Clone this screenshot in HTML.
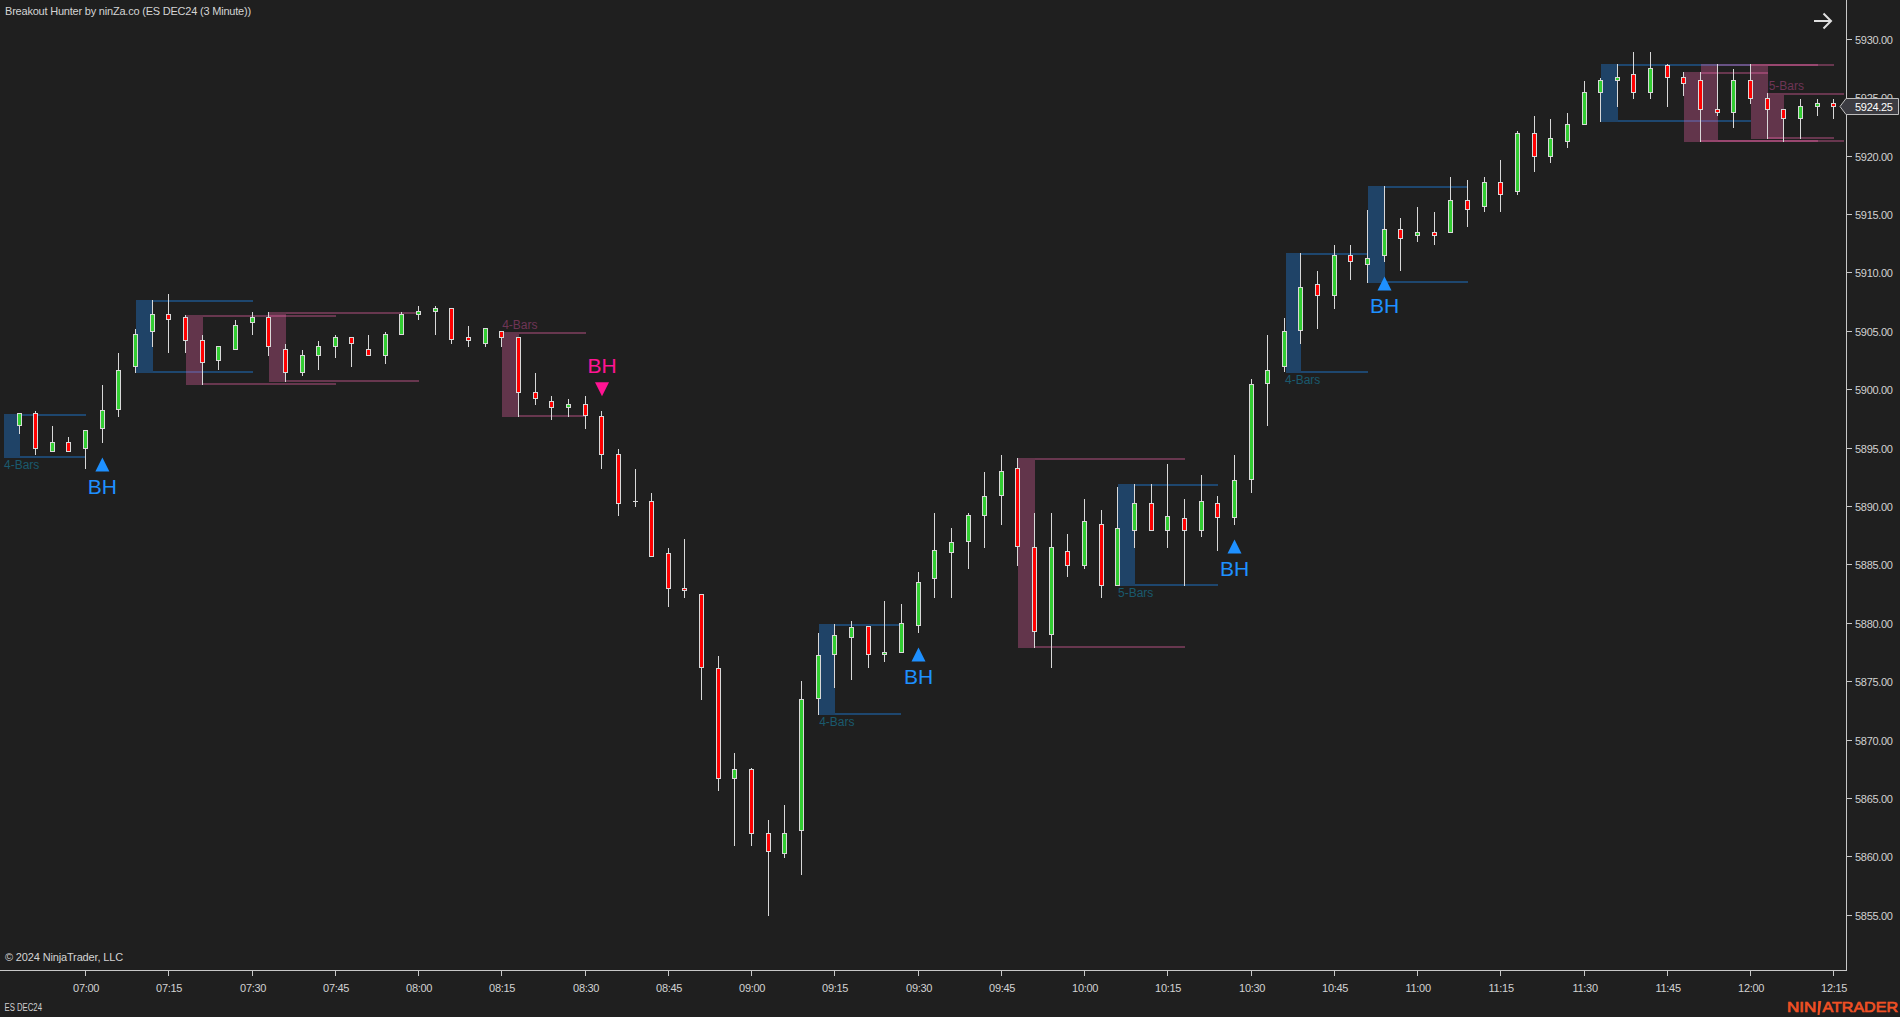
<!DOCTYPE html>
<html><head><meta charset="utf-8">
<style>
html,body{margin:0;padding:0;background:#1f1f1f;width:1900px;height:1017px;overflow:hidden;}
svg{display:block;}
text{font-family:"Liberation Sans",sans-serif;}
.pl{font-size:11px;fill:#d2d2d2;letter-spacing:-0.3px;}
.tl{font-size:11px;fill:#d2d2d2;letter-spacing:-0.3px;}
.bh{font-size:21px;}
.lb{font-size:12px;}
.ttl{font-size:11px;fill:#d4d4d4;}
</style></head><body>
<svg width="1900" height="1017" viewBox="0 0 1900 1017">
<rect x="0" y="0" width="1900" height="1017" fill="#1f1f1f"/>
<g shape-rendering="crispEdges">
<rect x="4.0" y="414.0" width="16.0" height="44.0" fill="rgba(30,144,255,0.32)"/>
<rect x="20.0" y="414.0" width="66.0" height="2.0" fill="rgba(30,144,255,0.36)"/>
<rect x="20.0" y="456.0" width="66.0" height="2.0" fill="rgba(30,144,255,0.36)"/>
<rect x="136.0" y="300.0" width="17.0" height="73.0" fill="rgba(30,144,255,0.32)"/>
<rect x="153.0" y="300.0" width="100.0" height="2.0" fill="rgba(30,144,255,0.36)"/>
<rect x="153.0" y="371.0" width="100.0" height="2.0" fill="rgba(30,144,255,0.36)"/>
<rect x="186.0" y="315.0" width="17.0" height="70.0" fill="rgba(255,105,180,0.30)"/>
<rect x="203.0" y="315.0" width="133.0" height="2.0" fill="rgba(255,105,180,0.33)"/>
<rect x="203.0" y="383.0" width="133.0" height="2.0" fill="rgba(255,105,180,0.33)"/>
<rect x="269.0" y="312.0" width="17.0" height="70.0" fill="rgba(255,105,180,0.30)"/>
<rect x="286.0" y="312.0" width="132.5" height="2.0" fill="rgba(255,105,180,0.33)"/>
<rect x="286.0" y="380.0" width="132.5" height="2.0" fill="rgba(255,105,180,0.33)"/>
<rect x="502.0" y="332.0" width="16.5" height="85.0" fill="rgba(255,105,180,0.30)"/>
<rect x="518.5" y="332.0" width="67.5" height="2.0" fill="rgba(255,105,180,0.33)"/>
<rect x="518.5" y="415.0" width="67.5" height="2.0" fill="rgba(255,105,180,0.33)"/>
<rect x="819.0" y="624.0" width="16.0" height="91.0" fill="rgba(30,144,255,0.32)"/>
<rect x="835.0" y="624.0" width="66.0" height="2.0" fill="rgba(30,144,255,0.36)"/>
<rect x="835.0" y="713.0" width="66.0" height="2.0" fill="rgba(30,144,255,0.36)"/>
<rect x="1018.0" y="458.0" width="17.0" height="190.0" fill="rgba(255,105,180,0.30)"/>
<rect x="1035.0" y="458.0" width="150.0" height="2.0" fill="rgba(255,105,180,0.33)"/>
<rect x="1035.0" y="646.0" width="150.0" height="2.0" fill="rgba(255,105,180,0.33)"/>
<rect x="1118.0" y="484.0" width="17.0" height="102.0" fill="rgba(30,144,255,0.32)"/>
<rect x="1135.0" y="484.0" width="83.0" height="2.0" fill="rgba(30,144,255,0.36)"/>
<rect x="1135.0" y="584.0" width="83.0" height="2.0" fill="rgba(30,144,255,0.36)"/>
<rect x="1285.5" y="253.0" width="15.5" height="120.0" fill="rgba(30,144,255,0.32)"/>
<rect x="1301.0" y="253.0" width="67.0" height="2.0" fill="rgba(30,144,255,0.36)"/>
<rect x="1301.0" y="371.0" width="67.0" height="2.0" fill="rgba(30,144,255,0.36)"/>
<rect x="1368.0" y="186.0" width="17.0" height="97.0" fill="rgba(30,144,255,0.32)"/>
<rect x="1385.0" y="186.0" width="83.0" height="2.0" fill="rgba(30,144,255,0.36)"/>
<rect x="1385.0" y="281.0" width="83.0" height="2.0" fill="rgba(30,144,255,0.36)"/>
<rect x="1601.0" y="64.0" width="17.0" height="58.0" fill="rgba(30,144,255,0.32)"/>
<rect x="1618.0" y="64.0" width="133.0" height="2.0" fill="rgba(30,144,255,0.36)"/>
<rect x="1618.0" y="120.0" width="133.0" height="2.0" fill="rgba(30,144,255,0.36)"/>
<rect x="1684.0" y="72.0" width="17.0" height="70.0" fill="rgba(255,105,180,0.30)"/>
<rect x="1701.0" y="64.0" width="17.0" height="78.0" fill="rgba(255,105,180,0.30)"/>
<rect x="1751.0" y="64.0" width="17.0" height="75.0" fill="rgba(255,105,180,0.30)"/>
<rect x="1768.0" y="95.0" width="16.0" height="44.0" fill="rgba(255,105,180,0.30)"/>
<rect x="1701.0" y="72.0" width="67.0" height="2.0" fill="rgba(255,105,180,0.33)"/>
<rect x="1701.0" y="140.0" width="83.0" height="2.0" fill="rgba(255,105,180,0.33)"/>
<rect x="1718.0" y="140.0" width="100.0" height="2.0" fill="rgba(255,105,180,0.33)"/>
<rect x="1718.0" y="64.0" width="100.0" height="2.0" fill="rgba(255,105,180,0.33)"/>
<rect x="1768.0" y="64.0" width="66.0" height="2.0" fill="rgba(255,105,180,0.33)"/>
<rect x="1768.0" y="93.0" width="76.0" height="2.0" fill="rgba(255,105,180,0.33)"/>
<rect x="1768.0" y="137.0" width="66.0" height="2.0" fill="rgba(255,105,180,0.33)"/>
<rect x="1784.0" y="140.0" width="60.0" height="2.0" fill="rgba(255,105,180,0.33)"/>
<rect x="19.0" y="413.0" width="1.0" height="21.0" fill="#d8d8d8"/>
<rect x="17.0" y="413.0" width="5.0" height="13.0" fill="#d8d8d8"/>
<rect x="18.0" y="414.0" width="3.0" height="11.0" fill="#32cd32"/>
<rect x="35.0" y="411.0" width="1.0" height="44.0" fill="#d8d8d8"/>
<rect x="33.0" y="413.0" width="5.0" height="36.0" fill="#d8d8d8"/>
<rect x="34.0" y="414.0" width="3.0" height="34.0" fill="#ff0000"/>
<rect x="52.0" y="426.0" width="1.0" height="26.0" fill="#d8d8d8"/>
<rect x="50.0" y="442.0" width="5.0" height="10.0" fill="#d8d8d8"/>
<rect x="51.0" y="443.0" width="3.0" height="8.0" fill="#32cd32"/>
<rect x="68.0" y="437.0" width="1.0" height="15.0" fill="#d8d8d8"/>
<rect x="66.0" y="442.0" width="5.0" height="10.0" fill="#d8d8d8"/>
<rect x="67.0" y="443.0" width="3.0" height="8.0" fill="#ff0000"/>
<rect x="85.0" y="430.0" width="1.0" height="39.0" fill="#d8d8d8"/>
<rect x="83.0" y="430.0" width="5.0" height="19.0" fill="#d8d8d8"/>
<rect x="84.0" y="431.0" width="3.0" height="17.0" fill="#32cd32"/>
<rect x="102.0" y="385.0" width="1.0" height="58.0" fill="#d8d8d8"/>
<rect x="100.0" y="410.0" width="5.0" height="19.0" fill="#d8d8d8"/>
<rect x="101.0" y="411.0" width="3.0" height="17.0" fill="#32cd32"/>
<rect x="118.0" y="353.0" width="1.0" height="64.0" fill="#d8d8d8"/>
<rect x="116.0" y="370.0" width="5.0" height="40.0" fill="#d8d8d8"/>
<rect x="117.0" y="371.0" width="3.0" height="38.0" fill="#32cd32"/>
<rect x="135.0" y="329.0" width="1.0" height="44.0" fill="#d8d8d8"/>
<rect x="133.0" y="334.0" width="5.0" height="33.0" fill="#d8d8d8"/>
<rect x="134.0" y="335.0" width="3.0" height="31.0" fill="#32cd32"/>
<rect x="152.0" y="300.0" width="1.0" height="47.0" fill="#d8d8d8"/>
<rect x="150.0" y="314.0" width="5.0" height="18.0" fill="#d8d8d8"/>
<rect x="151.0" y="315.0" width="3.0" height="16.0" fill="#32cd32"/>
<rect x="168.0" y="294.0" width="1.0" height="59.0" fill="#d8d8d8"/>
<rect x="166.0" y="314.0" width="5.0" height="6.0" fill="#d8d8d8"/>
<rect x="167.0" y="315.0" width="3.0" height="4.0" fill="#ff0000"/>
<rect x="185.0" y="315.0" width="1.0" height="38.0" fill="#d8d8d8"/>
<rect x="183.0" y="317.0" width="5.0" height="24.0" fill="#d8d8d8"/>
<rect x="184.0" y="318.0" width="3.0" height="22.0" fill="#ff0000"/>
<rect x="202.0" y="335.0" width="1.0" height="50.0" fill="#d8d8d8"/>
<rect x="200.0" y="340.0" width="5.0" height="23.0" fill="#d8d8d8"/>
<rect x="201.0" y="341.0" width="3.0" height="21.0" fill="#ff0000"/>
<rect x="218.0" y="346.0" width="1.0" height="24.0" fill="#d8d8d8"/>
<rect x="216.0" y="346.0" width="5.0" height="15.0" fill="#d8d8d8"/>
<rect x="217.0" y="347.0" width="3.0" height="13.0" fill="#32cd32"/>
<rect x="235.0" y="320.0" width="1.0" height="30.0" fill="#d8d8d8"/>
<rect x="233.0" y="325.0" width="5.0" height="25.0" fill="#d8d8d8"/>
<rect x="234.0" y="326.0" width="3.0" height="23.0" fill="#32cd32"/>
<rect x="252.0" y="312.0" width="1.0" height="23.0" fill="#d8d8d8"/>
<rect x="250.0" y="317.0" width="5.0" height="6.0" fill="#d8d8d8"/>
<rect x="251.0" y="318.0" width="3.0" height="4.0" fill="#32cd32"/>
<rect x="268.0" y="312.0" width="1.0" height="44.0" fill="#d8d8d8"/>
<rect x="266.0" y="317.0" width="5.0" height="30.0" fill="#d8d8d8"/>
<rect x="267.0" y="318.0" width="3.0" height="28.0" fill="#ff0000"/>
<rect x="285.0" y="344.0" width="1.0" height="38.0" fill="#d8d8d8"/>
<rect x="283.0" y="349.0" width="5.0" height="24.0" fill="#d8d8d8"/>
<rect x="284.0" y="350.0" width="3.0" height="22.0" fill="#ff0000"/>
<rect x="302.0" y="350.0" width="1.0" height="26.0" fill="#d8d8d8"/>
<rect x="300.0" y="355.0" width="5.0" height="18.0" fill="#d8d8d8"/>
<rect x="301.0" y="356.0" width="3.0" height="16.0" fill="#32cd32"/>
<rect x="318.0" y="341.0" width="1.0" height="29.0" fill="#d8d8d8"/>
<rect x="316.0" y="346.0" width="5.0" height="10.0" fill="#d8d8d8"/>
<rect x="317.0" y="347.0" width="3.0" height="8.0" fill="#32cd32"/>
<rect x="335.0" y="335.0" width="1.0" height="23.0" fill="#d8d8d8"/>
<rect x="333.0" y="337.0" width="5.0" height="10.0" fill="#d8d8d8"/>
<rect x="334.0" y="338.0" width="3.0" height="8.0" fill="#32cd32"/>
<rect x="351.0" y="337.0" width="1.0" height="30.0" fill="#d8d8d8"/>
<rect x="349.0" y="337.0" width="5.0" height="7.0" fill="#d8d8d8"/>
<rect x="350.0" y="338.0" width="3.0" height="5.0" fill="#ff0000"/>
<rect x="368.0" y="335.0" width="1.0" height="21.0" fill="#d8d8d8"/>
<rect x="366.0" y="349.0" width="5.0" height="7.0" fill="#d8d8d8"/>
<rect x="367.0" y="350.0" width="3.0" height="5.0" fill="#ff0000"/>
<rect x="385.0" y="332.0" width="1.0" height="32.0" fill="#d8d8d8"/>
<rect x="383.0" y="334.0" width="5.0" height="22.0" fill="#d8d8d8"/>
<rect x="384.0" y="335.0" width="3.0" height="20.0" fill="#32cd32"/>
<rect x="401.0" y="312.0" width="1.0" height="23.0" fill="#d8d8d8"/>
<rect x="399.0" y="314.0" width="5.0" height="21.0" fill="#d8d8d8"/>
<rect x="400.0" y="315.0" width="3.0" height="19.0" fill="#32cd32"/>
<rect x="418.0" y="306.0" width="1.0" height="14.0" fill="#d8d8d8"/>
<rect x="416.0" y="311.0" width="5.0" height="4.0" fill="#d8d8d8"/>
<rect x="417.0" y="312.0" width="3.0" height="2.0" fill="#32cd32"/>
<rect x="435.0" y="306.0" width="1.0" height="29.0" fill="#d8d8d8"/>
<rect x="433.0" y="308.0" width="5.0" height="4.0" fill="#d8d8d8"/>
<rect x="434.0" y="309.0" width="3.0" height="2.0" fill="#32cd32"/>
<rect x="451.0" y="308.0" width="1.0" height="36.0" fill="#d8d8d8"/>
<rect x="449.0" y="308.0" width="5.0" height="32.0" fill="#d8d8d8"/>
<rect x="450.0" y="309.0" width="3.0" height="30.0" fill="#ff0000"/>
<rect x="468.0" y="326.0" width="1.0" height="21.0" fill="#d8d8d8"/>
<rect x="466.0" y="337.0" width="5.0" height="4.0" fill="#d8d8d8"/>
<rect x="467.0" y="338.0" width="3.0" height="2.0" fill="#ff0000"/>
<rect x="485.0" y="328.0" width="1.0" height="19.0" fill="#d8d8d8"/>
<rect x="483.0" y="328.0" width="5.0" height="16.0" fill="#d8d8d8"/>
<rect x="484.0" y="329.0" width="3.0" height="14.0" fill="#32cd32"/>
<rect x="501.0" y="331.0" width="1.0" height="16.0" fill="#d8d8d8"/>
<rect x="499.0" y="331.0" width="5.0" height="7.0" fill="#d8d8d8"/>
<rect x="500.0" y="332.0" width="3.0" height="5.0" fill="#ff0000"/>
<rect x="518.0" y="337.0" width="1.0" height="80.0" fill="#d8d8d8"/>
<rect x="516.0" y="337.0" width="5.0" height="56.0" fill="#d8d8d8"/>
<rect x="517.0" y="338.0" width="3.0" height="54.0" fill="#ff0000"/>
<rect x="535.0" y="373.0" width="1.0" height="32.0" fill="#d8d8d8"/>
<rect x="533.0" y="392.0" width="5.0" height="7.0" fill="#d8d8d8"/>
<rect x="534.0" y="393.0" width="3.0" height="5.0" fill="#ff0000"/>
<rect x="551.0" y="396.0" width="1.0" height="24.0" fill="#d8d8d8"/>
<rect x="549.0" y="401.0" width="5.0" height="7.0" fill="#d8d8d8"/>
<rect x="550.0" y="402.0" width="3.0" height="5.0" fill="#ff0000"/>
<rect x="568.0" y="399.0" width="1.0" height="18.0" fill="#d8d8d8"/>
<rect x="566.0" y="404.0" width="5.0" height="4.0" fill="#d8d8d8"/>
<rect x="567.0" y="405.0" width="3.0" height="2.0" fill="#32cd32"/>
<rect x="585.0" y="396.0" width="1.0" height="33.0" fill="#d8d8d8"/>
<rect x="583.0" y="404.0" width="5.0" height="12.0" fill="#d8d8d8"/>
<rect x="584.0" y="405.0" width="3.0" height="10.0" fill="#ff0000"/>
<rect x="601.0" y="411.0" width="1.0" height="58.0" fill="#d8d8d8"/>
<rect x="599.0" y="416.0" width="5.0" height="39.0" fill="#d8d8d8"/>
<rect x="600.0" y="417.0" width="3.0" height="37.0" fill="#ff0000"/>
<rect x="618.0" y="449.0" width="1.0" height="67.0" fill="#d8d8d8"/>
<rect x="616.0" y="454.0" width="5.0" height="50.0" fill="#d8d8d8"/>
<rect x="617.0" y="455.0" width="3.0" height="48.0" fill="#ff0000"/>
<rect x="635.0" y="469.0" width="1.0" height="38.0" fill="#d8d8d8"/>
<rect x="633.0" y="501.0" width="5.0" height="1.0" fill="#d8d8d8"/>
<rect x="651.0" y="493.0" width="1.0" height="64.0" fill="#d8d8d8"/>
<rect x="649.0" y="501.0" width="5.0" height="56.0" fill="#d8d8d8"/>
<rect x="650.0" y="502.0" width="3.0" height="54.0" fill="#ff0000"/>
<rect x="668.0" y="548.0" width="1.0" height="59.0" fill="#d8d8d8"/>
<rect x="666.0" y="553.0" width="5.0" height="36.0" fill="#d8d8d8"/>
<rect x="667.0" y="554.0" width="3.0" height="34.0" fill="#ff0000"/>
<rect x="684.0" y="539.0" width="1.0" height="59.0" fill="#d8d8d8"/>
<rect x="682.0" y="588.0" width="5.0" height="3.0" fill="#d8d8d8"/>
<rect x="683.0" y="589.0" width="3.0" height="1.0" fill="#ff0000"/>
<rect x="701.0" y="594.0" width="1.0" height="106.0" fill="#d8d8d8"/>
<rect x="699.0" y="594.0" width="5.0" height="74.0" fill="#d8d8d8"/>
<rect x="700.0" y="595.0" width="3.0" height="72.0" fill="#ff0000"/>
<rect x="718.0" y="656.0" width="1.0" height="135.0" fill="#d8d8d8"/>
<rect x="716.0" y="668.0" width="5.0" height="111.0" fill="#d8d8d8"/>
<rect x="717.0" y="669.0" width="3.0" height="109.0" fill="#ff0000"/>
<rect x="734.0" y="753.0" width="1.0" height="93.0" fill="#d8d8d8"/>
<rect x="732.0" y="769.0" width="5.0" height="10.0" fill="#d8d8d8"/>
<rect x="733.0" y="770.0" width="3.0" height="8.0" fill="#32cd32"/>
<rect x="751.0" y="768.0" width="1.0" height="78.0" fill="#d8d8d8"/>
<rect x="749.0" y="769.0" width="5.0" height="65.0" fill="#d8d8d8"/>
<rect x="750.0" y="770.0" width="3.0" height="63.0" fill="#ff0000"/>
<rect x="768.0" y="820.0" width="1.0" height="96.0" fill="#d8d8d8"/>
<rect x="766.0" y="833.0" width="5.0" height="19.0" fill="#d8d8d8"/>
<rect x="767.0" y="834.0" width="3.0" height="17.0" fill="#ff0000"/>
<rect x="784.0" y="805.0" width="1.0" height="53.0" fill="#d8d8d8"/>
<rect x="782.0" y="833.0" width="5.0" height="21.0" fill="#d8d8d8"/>
<rect x="783.0" y="834.0" width="3.0" height="19.0" fill="#32cd32"/>
<rect x="801.0" y="681.0" width="1.0" height="194.0" fill="#d8d8d8"/>
<rect x="799.0" y="699.0" width="5.0" height="132.0" fill="#d8d8d8"/>
<rect x="800.0" y="700.0" width="3.0" height="130.0" fill="#32cd32"/>
<rect x="818.0" y="633.0" width="1.0" height="82.0" fill="#d8d8d8"/>
<rect x="816.0" y="655.0" width="5.0" height="44.0" fill="#d8d8d8"/>
<rect x="817.0" y="656.0" width="3.0" height="42.0" fill="#32cd32"/>
<rect x="834.0" y="624.0" width="1.0" height="64.0" fill="#d8d8d8"/>
<rect x="832.0" y="635.0" width="5.0" height="20.0" fill="#d8d8d8"/>
<rect x="833.0" y="636.0" width="3.0" height="18.0" fill="#32cd32"/>
<rect x="851.0" y="621.0" width="1.0" height="59.0" fill="#d8d8d8"/>
<rect x="849.0" y="627.0" width="5.0" height="11.0" fill="#d8d8d8"/>
<rect x="850.0" y="628.0" width="3.0" height="9.0" fill="#32cd32"/>
<rect x="868.0" y="626.0" width="1.0" height="42.0" fill="#d8d8d8"/>
<rect x="866.0" y="626.0" width="5.0" height="29.0" fill="#d8d8d8"/>
<rect x="867.0" y="627.0" width="3.0" height="27.0" fill="#ff0000"/>
<rect x="884.0" y="601.0" width="1.0" height="61.0" fill="#d8d8d8"/>
<rect x="882.0" y="652.0" width="5.0" height="3.0" fill="#d8d8d8"/>
<rect x="883.0" y="653.0" width="3.0" height="1.0" fill="#32cd32"/>
<rect x="901.0" y="604.0" width="1.0" height="49.0" fill="#d8d8d8"/>
<rect x="899.0" y="623.0" width="5.0" height="30.0" fill="#d8d8d8"/>
<rect x="900.0" y="624.0" width="3.0" height="28.0" fill="#32cd32"/>
<rect x="918.0" y="572.0" width="1.0" height="61.0" fill="#d8d8d8"/>
<rect x="916.0" y="582.0" width="5.0" height="44.0" fill="#d8d8d8"/>
<rect x="917.0" y="583.0" width="3.0" height="42.0" fill="#32cd32"/>
<rect x="934.0" y="513.0" width="1.0" height="85.0" fill="#d8d8d8"/>
<rect x="932.0" y="550.0" width="5.0" height="29.0" fill="#d8d8d8"/>
<rect x="933.0" y="551.0" width="3.0" height="27.0" fill="#32cd32"/>
<rect x="951.0" y="528.0" width="1.0" height="70.0" fill="#d8d8d8"/>
<rect x="949.0" y="542.0" width="5.0" height="11.0" fill="#d8d8d8"/>
<rect x="950.0" y="543.0" width="3.0" height="9.0" fill="#32cd32"/>
<rect x="968.0" y="513.0" width="1.0" height="56.0" fill="#d8d8d8"/>
<rect x="966.0" y="515.0" width="5.0" height="27.0" fill="#d8d8d8"/>
<rect x="967.0" y="516.0" width="3.0" height="25.0" fill="#32cd32"/>
<rect x="984.0" y="472.0" width="1.0" height="76.0" fill="#d8d8d8"/>
<rect x="982.0" y="496.0" width="5.0" height="20.0" fill="#d8d8d8"/>
<rect x="983.0" y="497.0" width="3.0" height="18.0" fill="#32cd32"/>
<rect x="1001.0" y="455.0" width="1.0" height="70.0" fill="#d8d8d8"/>
<rect x="999.0" y="471.0" width="5.0" height="25.0" fill="#d8d8d8"/>
<rect x="1000.0" y="472.0" width="3.0" height="23.0" fill="#32cd32"/>
<rect x="1017.0" y="458.0" width="1.0" height="108.0" fill="#d8d8d8"/>
<rect x="1015.0" y="468.0" width="5.0" height="79.0" fill="#d8d8d8"/>
<rect x="1016.0" y="469.0" width="3.0" height="77.0" fill="#ff0000"/>
<rect x="1034.0" y="513.0" width="1.0" height="135.0" fill="#d8d8d8"/>
<rect x="1032.0" y="547.0" width="5.0" height="85.0" fill="#d8d8d8"/>
<rect x="1033.0" y="548.0" width="3.0" height="83.0" fill="#ff0000"/>
<rect x="1051.0" y="513.0" width="1.0" height="155.0" fill="#d8d8d8"/>
<rect x="1049.0" y="547.0" width="5.0" height="88.0" fill="#d8d8d8"/>
<rect x="1050.0" y="548.0" width="3.0" height="86.0" fill="#32cd32"/>
<rect x="1067.0" y="534.0" width="1.0" height="43.0" fill="#d8d8d8"/>
<rect x="1065.0" y="551.0" width="5.0" height="15.0" fill="#d8d8d8"/>
<rect x="1066.0" y="552.0" width="3.0" height="13.0" fill="#ff0000"/>
<rect x="1084.0" y="499.0" width="1.0" height="70.0" fill="#d8d8d8"/>
<rect x="1082.0" y="521.0" width="5.0" height="45.0" fill="#d8d8d8"/>
<rect x="1083.0" y="522.0" width="3.0" height="43.0" fill="#32cd32"/>
<rect x="1101.0" y="510.0" width="1.0" height="88.0" fill="#d8d8d8"/>
<rect x="1099.0" y="524.0" width="5.0" height="62.0" fill="#d8d8d8"/>
<rect x="1100.0" y="525.0" width="3.0" height="60.0" fill="#ff0000"/>
<rect x="1117.0" y="487.0" width="1.0" height="99.0" fill="#d8d8d8"/>
<rect x="1115.0" y="528.0" width="5.0" height="58.0" fill="#d8d8d8"/>
<rect x="1116.0" y="529.0" width="3.0" height="56.0" fill="#32cd32"/>
<rect x="1134.0" y="484.0" width="1.0" height="64.0" fill="#d8d8d8"/>
<rect x="1132.0" y="503.0" width="5.0" height="28.0" fill="#d8d8d8"/>
<rect x="1133.0" y="504.0" width="3.0" height="26.0" fill="#32cd32"/>
<rect x="1151.0" y="484.0" width="1.0" height="47.0" fill="#d8d8d8"/>
<rect x="1149.0" y="503.0" width="5.0" height="28.0" fill="#d8d8d8"/>
<rect x="1150.0" y="504.0" width="3.0" height="26.0" fill="#ff0000"/>
<rect x="1167.0" y="464.0" width="1.0" height="84.0" fill="#d8d8d8"/>
<rect x="1165.0" y="516.0" width="5.0" height="15.0" fill="#d8d8d8"/>
<rect x="1166.0" y="517.0" width="3.0" height="13.0" fill="#32cd32"/>
<rect x="1184.0" y="499.0" width="1.0" height="87.0" fill="#d8d8d8"/>
<rect x="1182.0" y="518.0" width="5.0" height="13.0" fill="#d8d8d8"/>
<rect x="1183.0" y="519.0" width="3.0" height="11.0" fill="#ff0000"/>
<rect x="1201.0" y="475.0" width="1.0" height="62.0" fill="#d8d8d8"/>
<rect x="1199.0" y="501.0" width="5.0" height="30.0" fill="#d8d8d8"/>
<rect x="1200.0" y="502.0" width="3.0" height="28.0" fill="#32cd32"/>
<rect x="1217.0" y="496.0" width="1.0" height="55.0" fill="#d8d8d8"/>
<rect x="1215.0" y="503.0" width="5.0" height="15.0" fill="#d8d8d8"/>
<rect x="1216.0" y="504.0" width="3.0" height="13.0" fill="#ff0000"/>
<rect x="1234.0" y="455.0" width="1.0" height="70.0" fill="#d8d8d8"/>
<rect x="1232.0" y="480.0" width="5.0" height="38.0" fill="#d8d8d8"/>
<rect x="1233.0" y="481.0" width="3.0" height="36.0" fill="#32cd32"/>
<rect x="1251.0" y="379.0" width="1.0" height="114.0" fill="#d8d8d8"/>
<rect x="1249.0" y="384.0" width="5.0" height="96.0" fill="#d8d8d8"/>
<rect x="1250.0" y="385.0" width="3.0" height="94.0" fill="#32cd32"/>
<rect x="1267.0" y="335.0" width="1.0" height="91.0" fill="#d8d8d8"/>
<rect x="1265.0" y="370.0" width="5.0" height="14.0" fill="#d8d8d8"/>
<rect x="1266.0" y="371.0" width="3.0" height="12.0" fill="#32cd32"/>
<rect x="1284.0" y="318.0" width="1.0" height="54.0" fill="#d8d8d8"/>
<rect x="1282.0" y="331.0" width="5.0" height="36.0" fill="#d8d8d8"/>
<rect x="1283.0" y="332.0" width="3.0" height="34.0" fill="#32cd32"/>
<rect x="1300.0" y="253.0" width="1.0" height="91.0" fill="#d8d8d8"/>
<rect x="1298.0" y="287.0" width="5.0" height="44.0" fill="#d8d8d8"/>
<rect x="1299.0" y="288.0" width="3.0" height="42.0" fill="#32cd32"/>
<rect x="1317.0" y="271.0" width="1.0" height="58.0" fill="#d8d8d8"/>
<rect x="1315.0" y="284.0" width="5.0" height="12.0" fill="#d8d8d8"/>
<rect x="1316.0" y="285.0" width="3.0" height="10.0" fill="#ff0000"/>
<rect x="1334.0" y="245.0" width="1.0" height="64.0" fill="#d8d8d8"/>
<rect x="1332.0" y="255.0" width="5.0" height="41.0" fill="#d8d8d8"/>
<rect x="1333.0" y="256.0" width="3.0" height="39.0" fill="#32cd32"/>
<rect x="1350.0" y="245.0" width="1.0" height="35.0" fill="#d8d8d8"/>
<rect x="1348.0" y="255.0" width="5.0" height="7.0" fill="#d8d8d8"/>
<rect x="1349.0" y="256.0" width="3.0" height="5.0" fill="#ff0000"/>
<rect x="1367.0" y="210.0" width="1.0" height="73.0" fill="#d8d8d8"/>
<rect x="1365.0" y="258.0" width="5.0" height="7.0" fill="#d8d8d8"/>
<rect x="1366.0" y="259.0" width="3.0" height="5.0" fill="#32cd32"/>
<rect x="1384.0" y="186.0" width="1.0" height="76.0" fill="#d8d8d8"/>
<rect x="1382.0" y="229.0" width="5.0" height="27.0" fill="#d8d8d8"/>
<rect x="1383.0" y="230.0" width="3.0" height="25.0" fill="#32cd32"/>
<rect x="1400.0" y="218.0" width="1.0" height="53.0" fill="#d8d8d8"/>
<rect x="1398.0" y="229.0" width="5.0" height="10.0" fill="#d8d8d8"/>
<rect x="1399.0" y="230.0" width="3.0" height="8.0" fill="#ff0000"/>
<rect x="1417.0" y="207.0" width="1.0" height="35.0" fill="#d8d8d8"/>
<rect x="1415.0" y="232.0" width="5.0" height="4.0" fill="#d8d8d8"/>
<rect x="1416.0" y="233.0" width="3.0" height="2.0" fill="#32cd32"/>
<rect x="1434.0" y="212.0" width="1.0" height="33.0" fill="#d8d8d8"/>
<rect x="1432.0" y="232.0" width="5.0" height="4.0" fill="#d8d8d8"/>
<rect x="1433.0" y="233.0" width="3.0" height="2.0" fill="#ff0000"/>
<rect x="1450.0" y="177.0" width="1.0" height="56.0" fill="#d8d8d8"/>
<rect x="1448.0" y="200.0" width="5.0" height="33.0" fill="#d8d8d8"/>
<rect x="1449.0" y="201.0" width="3.0" height="31.0" fill="#32cd32"/>
<rect x="1467.0" y="180.0" width="1.0" height="47.0" fill="#d8d8d8"/>
<rect x="1465.0" y="200.0" width="5.0" height="10.0" fill="#d8d8d8"/>
<rect x="1466.0" y="201.0" width="3.0" height="8.0" fill="#ff0000"/>
<rect x="1484.0" y="177.0" width="1.0" height="35.0" fill="#d8d8d8"/>
<rect x="1482.0" y="182.0" width="5.0" height="25.0" fill="#d8d8d8"/>
<rect x="1483.0" y="183.0" width="3.0" height="23.0" fill="#32cd32"/>
<rect x="1500.0" y="160.0" width="1.0" height="52.0" fill="#d8d8d8"/>
<rect x="1498.0" y="182.0" width="5.0" height="13.0" fill="#d8d8d8"/>
<rect x="1499.0" y="183.0" width="3.0" height="11.0" fill="#ff0000"/>
<rect x="1517.0" y="131.0" width="1.0" height="64.0" fill="#d8d8d8"/>
<rect x="1515.0" y="133.0" width="5.0" height="59.0" fill="#d8d8d8"/>
<rect x="1516.0" y="134.0" width="3.0" height="57.0" fill="#32cd32"/>
<rect x="1534.0" y="116.0" width="1.0" height="56.0" fill="#d8d8d8"/>
<rect x="1532.0" y="133.0" width="5.0" height="24.0" fill="#d8d8d8"/>
<rect x="1533.0" y="134.0" width="3.0" height="22.0" fill="#ff0000"/>
<rect x="1550.0" y="119.0" width="1.0" height="44.0" fill="#d8d8d8"/>
<rect x="1548.0" y="138.0" width="5.0" height="19.0" fill="#d8d8d8"/>
<rect x="1549.0" y="139.0" width="3.0" height="17.0" fill="#32cd32"/>
<rect x="1567.0" y="113.0" width="1.0" height="35.0" fill="#d8d8d8"/>
<rect x="1565.0" y="124.0" width="5.0" height="18.0" fill="#d8d8d8"/>
<rect x="1566.0" y="125.0" width="3.0" height="16.0" fill="#32cd32"/>
<rect x="1584.0" y="81.0" width="1.0" height="44.0" fill="#d8d8d8"/>
<rect x="1582.0" y="92.0" width="5.0" height="33.0" fill="#d8d8d8"/>
<rect x="1583.0" y="93.0" width="3.0" height="31.0" fill="#32cd32"/>
<rect x="1600.0" y="78.0" width="1.0" height="44.0" fill="#d8d8d8"/>
<rect x="1598.0" y="80.0" width="5.0" height="13.0" fill="#d8d8d8"/>
<rect x="1599.0" y="81.0" width="3.0" height="11.0" fill="#32cd32"/>
<rect x="1617.0" y="64.0" width="1.0" height="43.0" fill="#d8d8d8"/>
<rect x="1615.0" y="77.0" width="5.0" height="4.0" fill="#d8d8d8"/>
<rect x="1616.0" y="78.0" width="3.0" height="2.0" fill="#32cd32"/>
<rect x="1633.0" y="52.0" width="1.0" height="47.0" fill="#d8d8d8"/>
<rect x="1631.0" y="74.0" width="5.0" height="19.0" fill="#d8d8d8"/>
<rect x="1632.0" y="75.0" width="3.0" height="17.0" fill="#ff0000"/>
<rect x="1650.0" y="52.0" width="1.0" height="47.0" fill="#d8d8d8"/>
<rect x="1648.0" y="68.0" width="5.0" height="25.0" fill="#d8d8d8"/>
<rect x="1649.0" y="69.0" width="3.0" height="23.0" fill="#32cd32"/>
<rect x="1667.0" y="64.0" width="1.0" height="43.0" fill="#d8d8d8"/>
<rect x="1665.0" y="65.0" width="5.0" height="13.0" fill="#d8d8d8"/>
<rect x="1666.0" y="66.0" width="3.0" height="11.0" fill="#ff0000"/>
<rect x="1683.0" y="72.0" width="1.0" height="24.0" fill="#d8d8d8"/>
<rect x="1681.0" y="77.0" width="5.0" height="7.0" fill="#d8d8d8"/>
<rect x="1682.0" y="78.0" width="3.0" height="5.0" fill="#ff0000"/>
<rect x="1700.0" y="72.0" width="1.0" height="70.0" fill="#d8d8d8"/>
<rect x="1698.0" y="80.0" width="5.0" height="30.0" fill="#d8d8d8"/>
<rect x="1699.0" y="81.0" width="3.0" height="28.0" fill="#ff0000"/>
<rect x="1717.0" y="64.0" width="1.0" height="52.0" fill="#d8d8d8"/>
<rect x="1715.0" y="109.0" width="5.0" height="4.0" fill="#d8d8d8"/>
<rect x="1716.0" y="110.0" width="3.0" height="2.0" fill="#ff0000"/>
<rect x="1733.0" y="69.0" width="1.0" height="59.0" fill="#d8d8d8"/>
<rect x="1731.0" y="80.0" width="5.0" height="33.0" fill="#d8d8d8"/>
<rect x="1732.0" y="81.0" width="3.0" height="31.0" fill="#32cd32"/>
<rect x="1750.0" y="64.0" width="1.0" height="40.0" fill="#d8d8d8"/>
<rect x="1748.0" y="80.0" width="5.0" height="19.0" fill="#d8d8d8"/>
<rect x="1749.0" y="81.0" width="3.0" height="17.0" fill="#ff0000"/>
<rect x="1767.0" y="93.0" width="1.0" height="46.0" fill="#d8d8d8"/>
<rect x="1765.0" y="98.0" width="5.0" height="12.0" fill="#d8d8d8"/>
<rect x="1766.0" y="99.0" width="3.0" height="10.0" fill="#ff0000"/>
<rect x="1783.0" y="109.0" width="1.0" height="33.0" fill="#d8d8d8"/>
<rect x="1781.0" y="109.0" width="5.0" height="10.0" fill="#d8d8d8"/>
<rect x="1782.0" y="110.0" width="3.0" height="8.0" fill="#ff0000"/>
<rect x="1800.0" y="99.0" width="1.0" height="40.0" fill="#d8d8d8"/>
<rect x="1798.0" y="106.0" width="5.0" height="13.0" fill="#d8d8d8"/>
<rect x="1799.0" y="107.0" width="3.0" height="11.0" fill="#32cd32"/>
<rect x="1817.0" y="99.0" width="1.0" height="17.0" fill="#d8d8d8"/>
<rect x="1815.0" y="103.0" width="5.0" height="4.0" fill="#d8d8d8"/>
<rect x="1816.0" y="104.0" width="3.0" height="2.0" fill="#32cd32"/>
<rect x="1833.0" y="99.0" width="1.0" height="20.0" fill="#d8d8d8"/>
<rect x="1831.0" y="103.0" width="5.0" height="4.0" fill="#d8d8d8"/>
<rect x="1832.0" y="104.0" width="3.0" height="2.0" fill="#ff0000"/>
</g>
<g shape-rendering="crispEdges">
<rect x="1846.0" y="0.0" width="1.0" height="971.0" fill="#c8c8c8"/>
<rect x="0.0" y="970.0" width="1847.0" height="1.0" fill="#c8c8c8"/>
<rect x="1846.0" y="39.0" width="6.0" height="1.0" fill="#c8c8c8"/>
<text x="1855" y="44" class="pl">5930.00</text>
<text x="1855" y="102" class="pl">5925.00</text>
<rect x="1846.0" y="156.0" width="6.0" height="1.0" fill="#c8c8c8"/>
<text x="1855" y="161" class="pl">5920.00</text>
<rect x="1846.0" y="214.0" width="6.0" height="1.0" fill="#c8c8c8"/>
<text x="1855" y="219" class="pl">5915.00</text>
<rect x="1846.0" y="272.0" width="6.0" height="1.0" fill="#c8c8c8"/>
<text x="1855" y="277" class="pl">5910.00</text>
<rect x="1846.0" y="331.0" width="6.0" height="1.0" fill="#c8c8c8"/>
<text x="1855" y="336" class="pl">5905.00</text>
<rect x="1846.0" y="389.0" width="6.0" height="1.0" fill="#c8c8c8"/>
<text x="1855" y="394" class="pl">5900.00</text>
<rect x="1846.0" y="448.0" width="6.0" height="1.0" fill="#c8c8c8"/>
<text x="1855" y="453" class="pl">5895.00</text>
<rect x="1846.0" y="506.0" width="6.0" height="1.0" fill="#c8c8c8"/>
<text x="1855" y="511" class="pl">5890.00</text>
<rect x="1846.0" y="564.0" width="6.0" height="1.0" fill="#c8c8c8"/>
<text x="1855" y="569" class="pl">5885.00</text>
<rect x="1846.0" y="623.0" width="6.0" height="1.0" fill="#c8c8c8"/>
<text x="1855" y="628" class="pl">5880.00</text>
<rect x="1846.0" y="681.0" width="6.0" height="1.0" fill="#c8c8c8"/>
<text x="1855" y="686" class="pl">5875.00</text>
<rect x="1846.0" y="740.0" width="6.0" height="1.0" fill="#c8c8c8"/>
<text x="1855" y="745" class="pl">5870.00</text>
<rect x="1846.0" y="798.0" width="6.0" height="1.0" fill="#c8c8c8"/>
<text x="1855" y="803" class="pl">5865.00</text>
<rect x="1846.0" y="856.0" width="6.0" height="1.0" fill="#c8c8c8"/>
<text x="1855" y="861" class="pl">5860.00</text>
<rect x="1846.0" y="915.0" width="6.0" height="1.0" fill="#c8c8c8"/>
<text x="1855" y="920" class="pl">5855.00</text>
<rect x="85.0" y="971.0" width="1.0" height="5.0" fill="#c8c8c8"/>
<text x="86.1" y="992" class="tl" text-anchor="middle">07:00</text>
<rect x="168.0" y="971.0" width="1.0" height="5.0" fill="#c8c8c8"/>
<text x="169.1" y="992" class="tl" text-anchor="middle">07:15</text>
<rect x="252.0" y="971.0" width="1.0" height="5.0" fill="#c8c8c8"/>
<text x="253.1" y="992" class="tl" text-anchor="middle">07:30</text>
<rect x="335.0" y="971.0" width="1.0" height="5.0" fill="#c8c8c8"/>
<text x="336.1" y="992" class="tl" text-anchor="middle">07:45</text>
<rect x="418.0" y="971.0" width="1.0" height="5.0" fill="#c8c8c8"/>
<text x="419.1" y="992" class="tl" text-anchor="middle">08:00</text>
<rect x="501.0" y="971.0" width="1.0" height="5.0" fill="#c8c8c8"/>
<text x="502.1" y="992" class="tl" text-anchor="middle">08:15</text>
<rect x="585.0" y="971.0" width="1.0" height="5.0" fill="#c8c8c8"/>
<text x="586.1" y="992" class="tl" text-anchor="middle">08:30</text>
<rect x="668.0" y="971.0" width="1.0" height="5.0" fill="#c8c8c8"/>
<text x="669.1" y="992" class="tl" text-anchor="middle">08:45</text>
<rect x="751.0" y="971.0" width="1.0" height="5.0" fill="#c8c8c8"/>
<text x="752.1" y="992" class="tl" text-anchor="middle">09:00</text>
<rect x="834.0" y="971.0" width="1.0" height="5.0" fill="#c8c8c8"/>
<text x="835.1" y="992" class="tl" text-anchor="middle">09:15</text>
<rect x="918.0" y="971.0" width="1.0" height="5.0" fill="#c8c8c8"/>
<text x="919.1" y="992" class="tl" text-anchor="middle">09:30</text>
<rect x="1001.0" y="971.0" width="1.0" height="5.0" fill="#c8c8c8"/>
<text x="1002.1" y="992" class="tl" text-anchor="middle">09:45</text>
<rect x="1084.0" y="971.0" width="1.0" height="5.0" fill="#c8c8c8"/>
<text x="1085.1" y="992" class="tl" text-anchor="middle">10:00</text>
<rect x="1167.0" y="971.0" width="1.0" height="5.0" fill="#c8c8c8"/>
<text x="1168.1" y="992" class="tl" text-anchor="middle">10:15</text>
<rect x="1251.0" y="971.0" width="1.0" height="5.0" fill="#c8c8c8"/>
<text x="1252.1" y="992" class="tl" text-anchor="middle">10:30</text>
<rect x="1334.0" y="971.0" width="1.0" height="5.0" fill="#c8c8c8"/>
<text x="1335.1" y="992" class="tl" text-anchor="middle">10:45</text>
<rect x="1417.0" y="971.0" width="1.0" height="5.0" fill="#c8c8c8"/>
<text x="1418.1" y="992" class="tl" text-anchor="middle">11:00</text>
<rect x="1500.0" y="971.0" width="1.0" height="5.0" fill="#c8c8c8"/>
<text x="1501.1" y="992" class="tl" text-anchor="middle">11:15</text>
<rect x="1584.0" y="971.0" width="1.0" height="5.0" fill="#c8c8c8"/>
<text x="1585.1" y="992" class="tl" text-anchor="middle">11:30</text>
<rect x="1667.0" y="971.0" width="1.0" height="5.0" fill="#c8c8c8"/>
<text x="1668.1" y="992" class="tl" text-anchor="middle">11:45</text>
<rect x="1750.0" y="971.0" width="1.0" height="5.0" fill="#c8c8c8"/>
<text x="1751.1" y="992" class="tl" text-anchor="middle">12:00</text>
<rect x="1833.0" y="971.0" width="1.0" height="5.0" fill="#c8c8c8"/>
<text x="1834.1" y="992" class="tl" text-anchor="middle">12:15</text>
</g>
<polygon points="95.4,471.4 109.4,471.4 102.4,457.4" fill="#1e90ff"/>
<text x="102.4" y="494.3" class="bh" fill="#1e90ff" text-anchor="middle">BH</text>
<polygon points="595,382.3 609,382.3 602,396.3" fill="#ff1493"/>
<text x="602" y="373" class="bh" fill="#ff1493" text-anchor="middle">BH</text>
<polygon points="911.5,661.5 925.5,661.5 918.5,647.5" fill="#1e90ff"/>
<text x="918.5" y="684" class="bh" fill="#1e90ff" text-anchor="middle">BH</text>
<polygon points="1227.5,553.4 1241.5,553.4 1234.5,539.4" fill="#1e90ff"/>
<text x="1234.5" y="576" class="bh" fill="#1e90ff" text-anchor="middle">BH</text>
<polygon points="1377.5,290.4 1391.5,290.4 1384.5,276.4" fill="#1e90ff"/>
<text x="1384.5" y="312.6" class="bh" fill="#1e90ff" text-anchor="middle">BH</text>
<text x="4" y="469.2" class="lb" fill="#1a5a6e">4-Bars</text>
<text x="502.2" y="328.9" class="lb" fill="#6e3556">4-Bars</text>
<text x="819.2" y="725.7" class="lb" fill="#1a5a6e">4-Bars</text>
<text x="1118" y="597.1" class="lb" fill="#1a5a6e">5-Bars</text>
<text x="1285" y="384.4" class="lb" fill="#1a5a6e">4-Bars</text>
<text x="1768.7" y="89.7" class="lb" fill="#6e3556">5-Bars</text>
<text x="5" y="15" class="ttl" style="letter-spacing:-0.21px">Breakout Hunter by ninZa.co (ES DEC24 (3 Minute))</text>
<text x="5" y="961" class="ttl" style="letter-spacing:-0.15px">© 2024 NinjaTrader, LLC</text>
<text x="4.5" y="1011" style="font-size:10px;fill:#d0d0d0" textLength="37.5" lengthAdjust="spacingAndGlyphs">ES DEC24</text>
<path d="M1814 21 H1831 M1823.5 13.5 L1831 21 L1823.5 28.5" stroke="#e0e0e0" stroke-width="2" fill="none"/>
<polygon points="1840,106.5 1846,98.5 1898.5,98.5 1898.5,114.5 1846,114.5" fill="#3c3c42" stroke="#bdbdbd" stroke-width="1"/>
<text x="1855" y="111" class="pl" style="fill:#ffffff">5924.25</text>
<text x="1787" y="1012" style="font-size:15px;font-weight:normal;fill:#ef5024;stroke:#ef5024;stroke-width:0.7px" textLength="29.5" lengthAdjust="spacingAndGlyphs">NIN</text>
<polygon points="1818.3,1001 1821.3,1001 1819.6,1015 1817.6,1015" fill="#ef5024"/>
<text x="1822.5" y="1012" style="font-size:15px;font-weight:normal;fill:#ef5024;stroke:#ef5024;stroke-width:0.7px" textLength="75.5" lengthAdjust="spacingAndGlyphs">ATRADER</text>
</svg>
</body></html>
